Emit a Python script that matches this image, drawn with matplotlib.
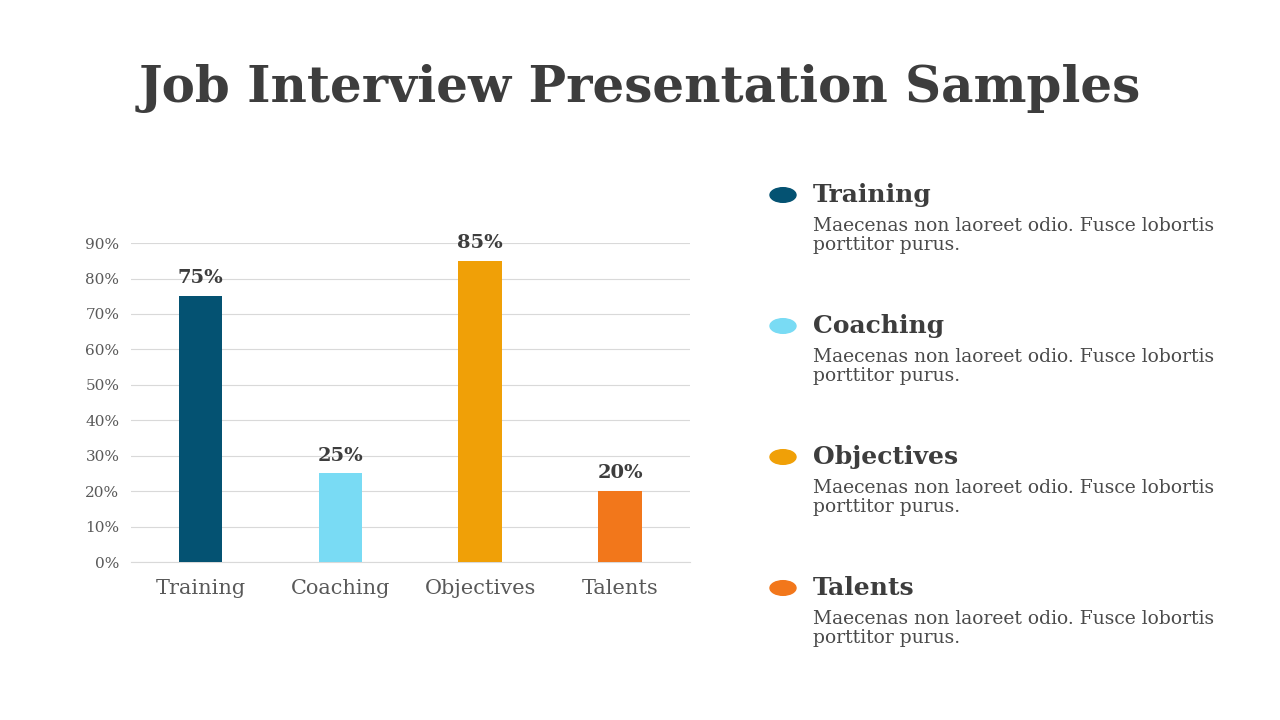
import matplotlib.pyplot as plt
from matplotlib.patches import Circle

categories = ['Training', 'Coaching', 'Objectives', 'Talents']
values = [75, 25, 85, 20]
colors = ['#045272', '#79DBF4', '#F0A007', '#F2771B']
yticks = [0, 10, 20, 30, 40, 50, 60, 70, 80, 90]
desc = 'Maecenas non laoreet odio. Fusce lobortis\nporttitor purus.'

plt.rcParams['font.family'] = 'DejaVu Serif'
text_color = '#3d3d3d'

fig = plt.figure(figsize=(12.8, 7.2), dpi=100)
fig.patch.set_facecolor('white')

fig.text(0.5, 0.877, 'Job Interview Presentation Samples', ha='center', va='center',
         fontsize=36, fontweight='bold', color=text_color)

ax = fig.add_axes([0.102, 0.2194, 0.437, 0.443])
x = range(len(categories))
ax.bar(x, values, width=0.31, color=colors, zorder=3)
for i, v in enumerate(values):
    ax.text(i, v + 2.5, f'{v}%', ha='center', va='bottom', fontsize=14,
            fontweight='bold', color=text_color)
ax.set_xlim(-0.5, 3.5)
ax.set_ylim(0, 90)
ax.set_yticks(yticks)
ax.set_yticklabels([f'{t}%' for t in yticks], fontsize=11, color='#595959')
ax.set_xticks(list(x))
ax.set_xticklabels(categories, fontsize=15, color='#595959')
ax.grid(axis='y', color='#d9d9d9', linewidth=0.8, zorder=0)
for s in ['top', 'right', 'left']:
    ax.spines[s].set_visible(False)
ax.spines['bottom'].set_color('#d9d9d9')
ax.tick_params(length=0, pad=8)
ax.tick_params(axis='x', pad=12)

# legend panel on the right
for i, (name, c) in enumerate(zip(categories, colors)):
    yc = 195 + i * 131
    fig.patches.append(Circle((783 / 1280, 1 - yc / 720), 13 / 1280 * 1.0,
                              transform=fig.transFigure, color=c))
    fig.text(813 / 1280, 1 - yc / 720, name, ha='left', va='center',
             fontsize=18, fontweight='bold', color=text_color)
    fig.text(813 / 1280, 1 - (yc + 22) / 720, desc, ha='left', va='top',
             fontsize=13.5, color='#4a4a4a', linespacing=1.1)

fig.savefig('out.png', dpi=100)
